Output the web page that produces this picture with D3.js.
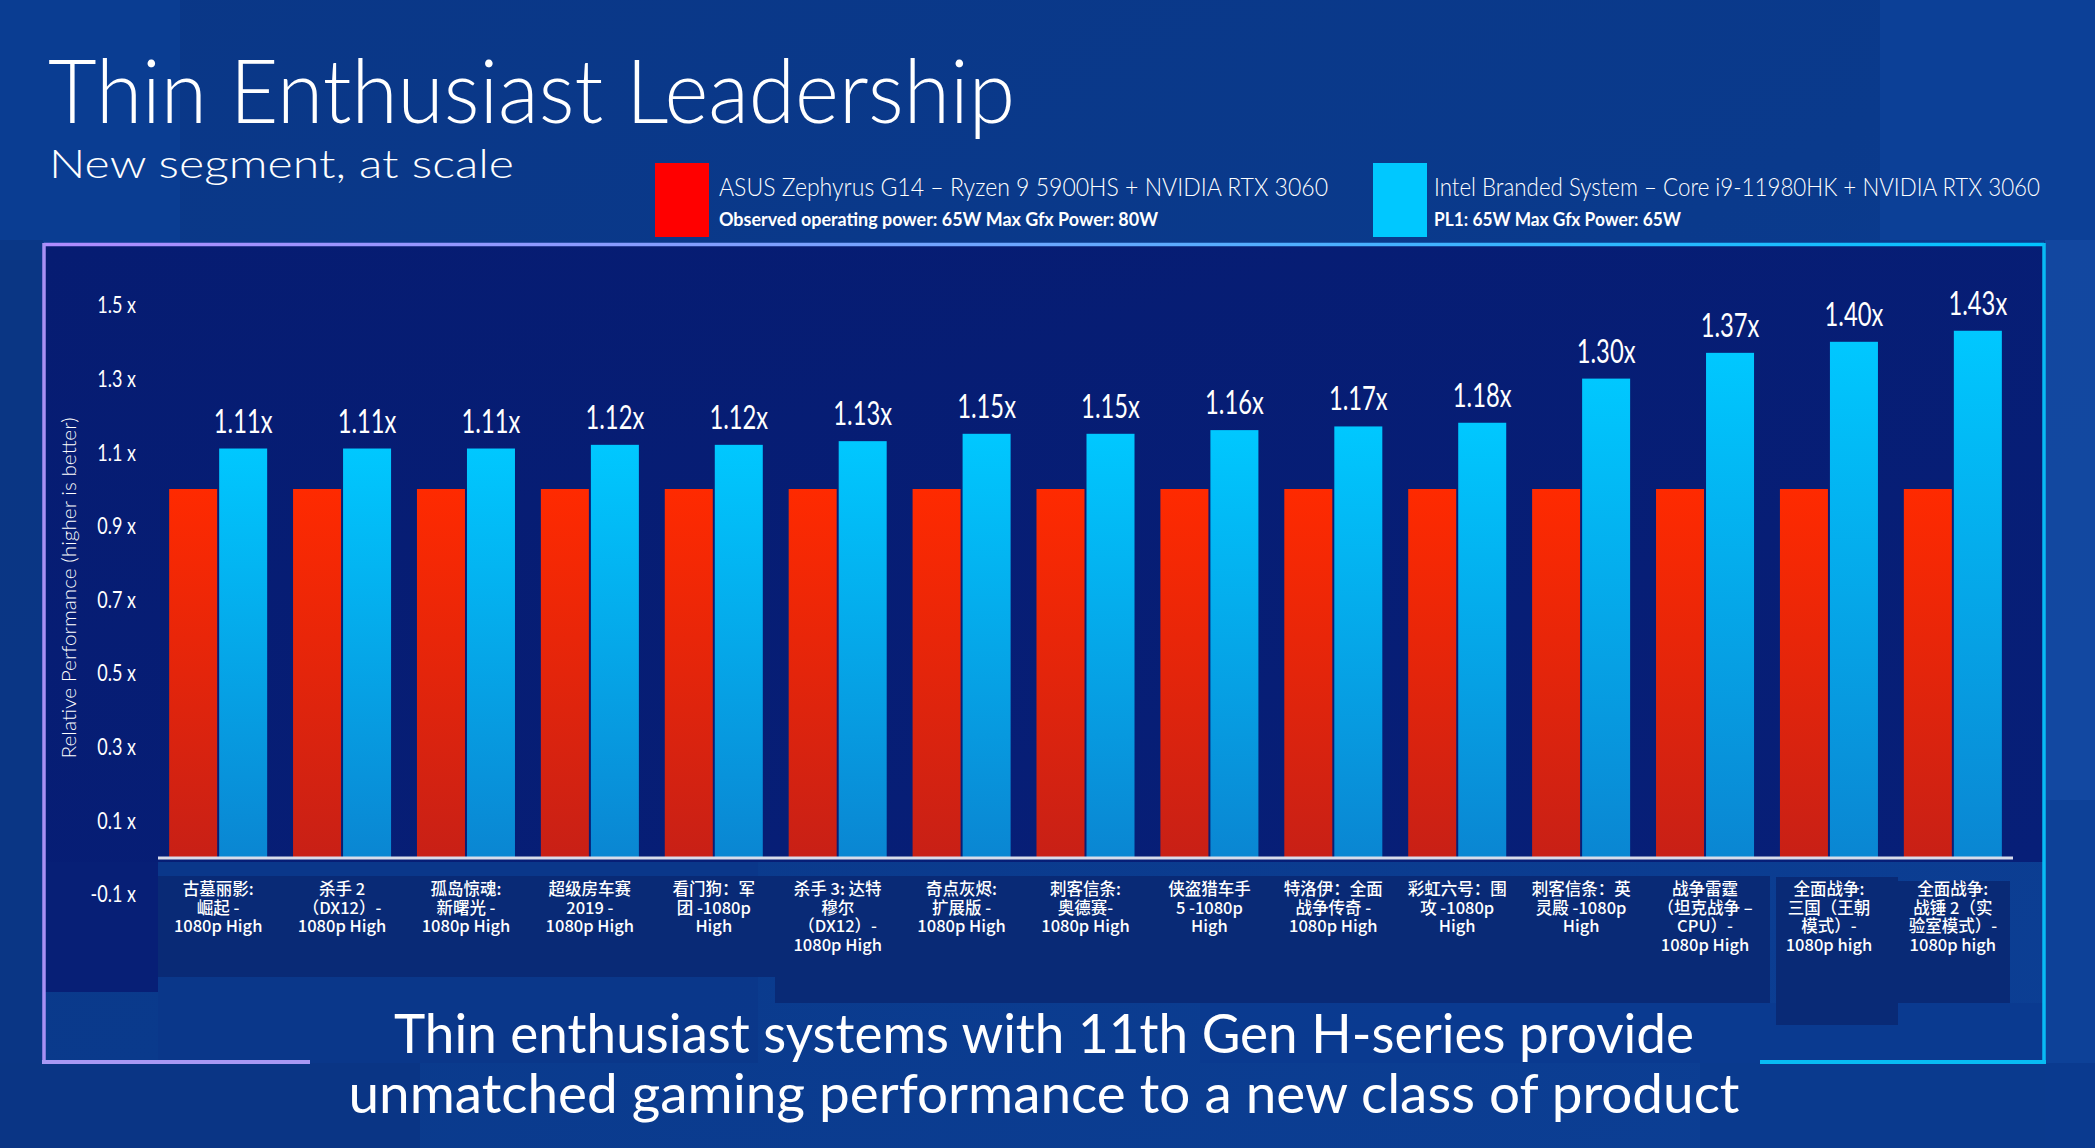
<!DOCTYPE html>
<html><head><meta charset="utf-8">
<script src="https://cdn.jsdelivr.net/npm/d3@7"></script>
<style>
html,body{margin:0;padding:0;background:#0a3889;overflow:hidden}
svg{display:block}
</style></head>
<body><svg id="c" width="2095" height="1148"></svg>
<script>
// ---------- DATA ----------
const categories = [
  "古墓丽影: 崛起 - 1080p High",
  "杀手 2（DX12）- 1080p High",
  "孤岛惊魂: 新曙光 - 1080p High",
  "超级房车赛 2019 - 1080p High",
  "看门狗：军团 -1080p High",
  "杀手 3: 达特穆尔（DX12）- 1080p High",
  "奇点灰烬: 扩展版 - 1080p High",
  "刺客信条: 奥德赛- 1080p High",
  "侠盗猎车手 5 -1080p High",
  "特洛伊：全面战争传奇 - 1080p High",
  "彩虹六号：围攻 -1080p High",
  "刺客信条：英灵殿 -1080p High",
  "战争雷霆（坦克战争 – CPU）- 1080p High",
  "全面战争: 三国（王朝模式）- 1080p high",
  "全面战争: 战锤 2（实验室模式）- 1080p high"
];
const categoryLines = [
  ["古墓丽影:", "崛起 -", "1080p High"],
  ["杀手 2", "（DX12）-", "1080p High"],
  ["孤岛惊魂:", "新曙光 -", "1080p High"],
  ["超级房车赛", "2019 -", "1080p High"],
  ["看门狗：军", "团 -1080p", "High"],
  ["杀手 3: 达特", "穆尔", "（DX12）-", "1080p High"],
  ["奇点灰烬:", "扩展版 -", "1080p High"],
  ["刺客信条:", "奥德赛-", "1080p High"],
  ["侠盗猎车手", "5 -1080p", "High"],
  ["特洛伊：全面", "战争传奇 -", "1080p High"],
  ["彩虹六号：围", "攻 -1080p", "High"],
  ["刺客信条：英", "灵殿 -1080p", "High"],
  ["战争雷霆", "（坦克战争 –", "CPU）-", "1080p High"],
  ["全面战争:", "三国（王朝", "模式）-", "1080p high"],
  ["全面战争:", "战锤 2（实", "验室模式）-", "1080p high"]
];
const seriesKeys = ["asus", "intel"];
const seriesNames = [
  "ASUS Zephyrus G14 – Ryzen 9 5900HS + NVIDIA RTX 3060",
  "Intel Branded System – Core i9-11980HK + NVIDIA RTX 3060"
];
const seriesNotes = [
  "Observed operating power: 65W  Max Gfx Power: 80W",
  "PL1: 65W Max Gfx Power: 65W"
];
const asusValues  = [1,1,1,1,1,1,1,1,1,1,1,1,1,1,1];
const intelValues = [1.11,1.11,1.11,1.12,1.12,1.13,1.15,1.15,1.16,1.17,1.18,1.30,1.37,1.40,1.43];
const intelLabels = ["1.11x","1.11x","1.11x","1.12x","1.12x","1.13x","1.15x","1.15x","1.16x","1.17x","1.18x","1.30x","1.37x","1.40x","1.43x"];
const yTickValues = [-0.1,0.1,0.3,0.5,0.7,0.9,1.1,1.3,1.5];
const yTickLabels = ["-0.1 x","0.1 x","0.3 x","0.5 x","0.7 x","0.9 x","1.1 x","1.3 x","1.5 x"];
const titleText = "Thin Enthusiast Leadership";
const subtitleText = "New segment, at scale";
const yAxisTitle = "Relative Performance (higher is better)";
const footerLines = [
  "Thin enthusiast systems with 11th Gen H-series provide",
  "unmatched gaming performance to a new class of product"
];

// ---------- DRAW ----------
const svg = d3.select("#c");
const W = 2095, H = 1148;
const LAT = "Lato, 'Open Sans', 'Noto Sans', sans-serif";
const CJK = "'Noto Sans CJK SC', 'Noto Sans', sans-serif";

const defs = svg.append("defs");
function lg(id, x1,y1,x2,y2, stops, user){
  const g = defs.append("linearGradient").attr("id", id)
    .attr("x1",x1).attr("y1",y1).attr("x2",x2).attr("y2",y2);
  if (user) g.attr("gradientUnits","userSpaceOnUse");
  stops.forEach(s => g.append("stop").attr("offset", s[0]).attr("stop-color", s[1]));
}
lg("bg", "0","0","1","1", [[0,"#0a3787"],[0.5,"#0a3a8c"],[1,"#0c3f95"]]);
lg("inner", "0","0","1","1", [[0,"#061c72"],[1,"#071f78"]]);
lg("gRed", "0","0","0","1", [[0,"#ff2a00"],[1,"#c82016"]]);
lg("gBlue", "0","0","0","1", [[0,"#00c8ff"],[1,"#0a86d2"]]);
lg("frame", 43,0,2045,0, [[0,"#b08cff"],[0.5,"#6aa8ff"],[1,"#00c4ff"]], true);

// background
svg.append("rect").attr("width",W).attr("height",H).attr("fill","url(#bg)");
// subtle cube shapes
const cubes = [[0,0,180,260,"#0b3e94"],[1880,0,215,240,"#0d4299"],[2045,240,50,560,"#144aa3"],[2045,800,50,348,"#0e4299"],
  [0,1063,420,85,"#0a3584"],[1700,1063,395,85,"#0b3a8d"],[0,240,43,830,"#0a3684"],
  [158,862,600,201,"#0b378a"],[1200,1003,845,60,"#0b3a8f"]];
svg.append("g").selectAll("rect").data(cubes).join("rect")
  .attr("x",d=>d[0]).attr("y",d=>d[1]).attr("width",d=>d[2]).attr("height",d=>d[3]).attr("fill",d=>d[4]).attr("opacity",0.85);

// inner panel (dark area above the axis) + dark strip left of labels
svg.append("rect").attr("x",43).attr("y",243).attr("width",2002).attr("height",619).attr("fill","url(#inner)");
svg.append("rect").attr("x",43).attr("y",862).attr("width",115).attr("height",130).attr("fill","#071f76");
// label boxes behind category names
const boxes = [[158,876,617,101],[775,876,995,127],[1776,877,122,148],[1898,881,112,122]];
svg.append("g").selectAll("rect").data(boxes).join("rect")
  .attr("x",d=>d[0]).attr("y",d=>d[1]).attr("width",d=>d[2]).attr("height",d=>d[3]).attr("fill","#092a76");

// frame lines
svg.append("line").attr("x1",44).attr("x2",2044).attr("y1",244.5).attr("y2",244.5).attr("stroke","url(#frame)").attr("stroke-width",3.5);
svg.append("line").attr("x1",44).attr("x2",44).attr("y1",243).attr("y2",1063).attr("stroke","#a890f4").attr("stroke-width",3.5);
svg.append("line").attr("x1",2044).attr("x2",2044).attr("y1",243).attr("y2",1063).attr("stroke","#08baf4").attr("stroke-width",3.5);
svg.append("line").attr("x1",42).attr("x2",310).attr("y1",1062).attr("y2",1062).attr("stroke","#a898f4").attr("stroke-width",4);
svg.append("line").attr("x1",1760).attr("x2",2046).attr("y1",1062).attr("y2",1062).attr("stroke","#08bcf4").attr("stroke-width",4);

// helpers
function fitW(sel, w){ sel.attr("textLength", w).attr("lengthAdjust","spacingAndGlyphs"); }
function condense(sel, f){
  sel.each(function(){ const w = this.getComputedTextLength(); d3.select(this).attr("textLength", w*f).attr("lengthAdjust","spacingAndGlyphs"); });
}

// title
svg.append("text").attr("x",48).attr("y",123).attr("fill","#fff")
  .style("font-family",LAT).style("font-weight",300).style("font-size","88px")
  .text(titleText).call(fitW, 967);
svg.append("text").attr("x",49).attr("y",178).attr("fill","#fff")
  .style("font-family",LAT).style("font-weight",300).style("font-size","39px")
  .text(subtitleText).call(fitW, 465);

// legend
const legX = [655, 1373], legTextX = [719, 1434];
const legW1 = [609, 606], legW2 = [439, 247];
const legColors = ["#ff0000", "#00c8ff"];
seriesKeys.forEach((k,i)=>{
  svg.append("rect").attr("x",legX[i]).attr("y",163).attr("width",54).attr("height",74).attr("fill",legColors[i]);
  svg.append("text").attr("x",legTextX[i]).attr("y",196).attr("fill","#fff")
    .style("font-family",LAT).style("font-weight",300).style("font-size","25px")
    .text(seriesNames[i]).call(fitW, legW1[i]);
  svg.append("text").attr("x",legTextX[i]).attr("y",226).attr("fill","#fff")
    .style("font-family",LAT).style("font-weight",700).style("font-size","19px")
    .text(seriesNotes[i]).call(fitW, legW2[i]);
});

// scales
const x = d3.scaleBand().domain(categories).range([158, 2013]).paddingInner(0.209).paddingOuter(0.09);
const xs = d3.scaleBand().domain(seriesKeys).range([0, x.bandwidth()]).paddingInner(0.04);
const y = d3.scaleLinear().domain([0, 1.5]).range([857, 305]);

// y axis
const yAxis = d3.axisLeft(y).tickValues(yTickValues).tickSize(0).tickPadding(0)
  .tickFormat((d,i)=>yTickLabels[i]);
const yg = svg.append("g").attr("transform","translate(136,0)").call(yAxis);
yg.select(".domain").remove();
yg.selectAll("text").attr("fill","#fff").attr("dy","0.35em")
  .style("font-family",LAT).style("font-size","22.5px").style("font-weight",400)
  .call(condense, 0.8);

svg.append("text").attr("transform","translate(76,588) rotate(-90)").attr("text-anchor","middle")
  .attr("fill","#fff").style("font-family",LAT).style("font-weight",300).style("font-size","19px")
  .text(yAxisTitle).call(fitW, 341);

// bars
const rows = categories.map((c,i)=>({cat:c, asus:asusValues[i], intel:intelValues[i], label:intelLabels[i], lines:categoryLines[i]}));
const groups = svg.append("g").selectAll("g").data(rows).join("g")
  .attr("transform", d=>`translate(${x(d.cat)},0)`);
groups.append("rect").attr("x", xs("asus")).attr("width", xs.bandwidth())
  .attr("y", d=>y(d.asus)).attr("height", d=>y(0)-y(d.asus)).attr("fill","url(#gRed)");
groups.append("rect").attr("x", xs("intel")).attr("width", xs.bandwidth())
  .attr("y", d=>y(d.intel)).attr("height", d=>y(0)-y(d.intel)).attr("fill","url(#gBlue)");
groups.append("text").attr("x", xs("intel")+xs.bandwidth()/2).attr("y", d=>y(d.intel)-16)
  .attr("text-anchor","middle").attr("fill","#fff")
  .style("font-family",LAT).style("font-size","33px").style("font-weight",400)
  .text(d=>d.label).call(condense, 0.72);

// x axis line
svg.append("line").attr("x1",158).attr("x2",2013).attr("y1",y(0)+1).attr("y2",y(0)+1)
  .attr("stroke","#d8dcea").attr("stroke-width",3);

// category labels
groups.each(function(d){
  const g = d3.select(this);
  const t = g.append("text").attr("text-anchor","middle").attr("fill","#fff")
    .style("font-family",CJK).style("font-size","16.5px").style("font-weight",500);
  d.lines.forEach((ln,j)=>{
    t.append("tspan").attr("x", x.bandwidth()/2).attr("y", 895 + j*18.5).text(ln);
  });
});

// footer
footerLines.forEach((ln,i)=>{
  svg.append("text").attr("x",1044).attr("y",[1053,1113][i]).attr("text-anchor","middle").attr("fill","#fff")
    .style("font-family",LAT).style("font-weight",400).style("font-size","54px")
    .text(ln).call(fitW, [1300,1391][i]);
});
</script>
</body></html>
